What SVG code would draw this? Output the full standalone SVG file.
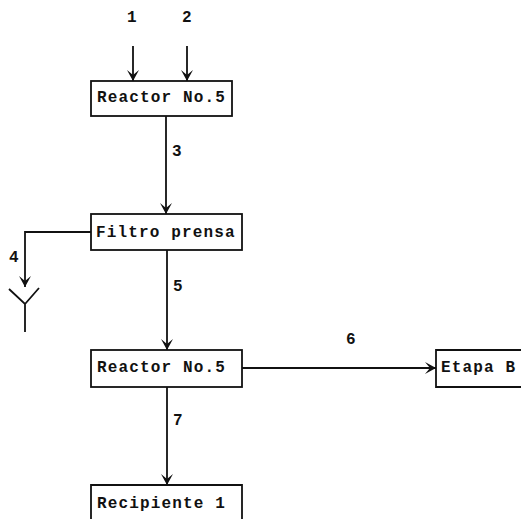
<svg xmlns="http://www.w3.org/2000/svg" width="521" height="519" viewBox="0 0 521 519">
<style>
.b{fill:#fff;stroke:#111;stroke-width:1.8}
.c{fill:none;stroke:#111;stroke-width:1.8}
.t{font-family:"Liberation Mono",monospace;font-size:16px;font-weight:bold;fill:#111;letter-spacing:1.15px}
.n{font-family:"Liberation Mono",monospace;font-size:16px;font-weight:bold;fill:#111}
</style>
<defs><marker id="a" markerUnits="userSpaceOnUse" markerWidth="16" markerHeight="14" refX="13" refY="7" orient="auto"><path d="M2 1L13 7L2 13L7 7Z" fill="#111"/></marker></defs>
<rect width="521" height="519" fill="#fff"/>
<g id="connectors">
<path class="c" d="M133 46V81" marker-end="url(#a)"/>
<path class="c" d="M187 46V81" marker-end="url(#a)"/>
<path class="c" d="M166 116V214" marker-end="url(#a)"/>
<path class="c" d="M91 232H25V287" marker-end="url(#a)"/>
<path class="c" d="M167 250V350" marker-end="url(#a)"/>
<path class="c" d="M242 368H436" marker-end="url(#a)"/>
<path class="c" d="M167 387V485" marker-end="url(#a)"/>
<path class="c" d="M9 289L25 304L39 288M25 304V332"/>
<text class="n" x="127" y="22">1</text>
<text class="n" x="182" y="22">2</text>
<text class="n" x="172" y="156">3</text>
<text class="n" x="9" y="262">4</text>
<text class="n" x="173" y="291">5</text>
<text class="n" x="346" y="344">6</text>
<text class="n" x="173" y="425">7</text>
</g>
<g id="reactor1"><rect class="b" x="91" y="81" width="141" height="35"/><text class="t" x="97" y="102">Reactor No.5</text></g>
<g id="filtro"><rect class="b" x="91" y="214" width="151" height="36"/><text class="t" x="96" y="237">Filtro prensa</text></g>
<g id="reactor2"><rect class="b" x="91" y="350" width="151" height="37"/><text class="t" x="97" y="372">Reactor No.5</text></g>
<g id="etapa"><path class="b" d="M522 350H436V387H522"/><text class="t" x="441" y="372">Etapa B</text></g>
<g id="recipiente"><path class="b" d="M91 520V485H242V520"/><text class="t" x="97" y="508">Recipiente 1</text></g>
</svg>
